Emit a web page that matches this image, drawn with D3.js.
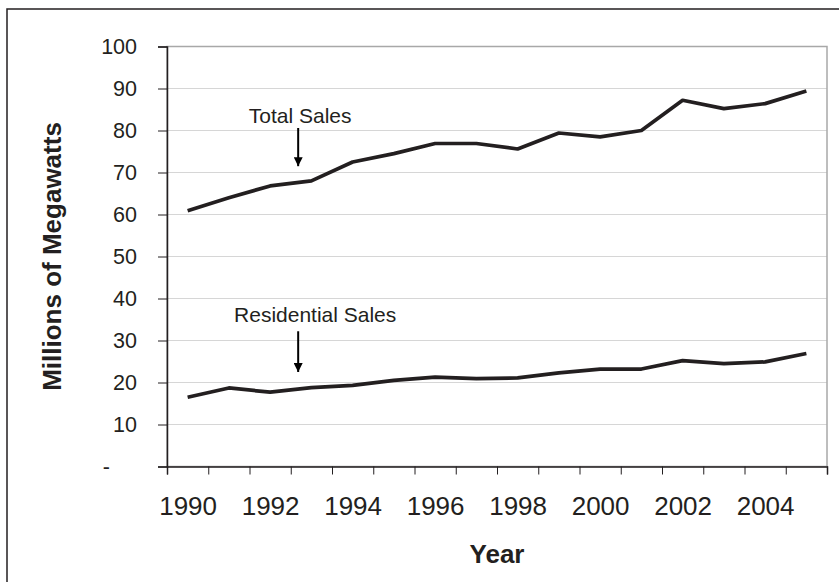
<!DOCTYPE html>
<html>
<head>
<meta charset="utf-8">
<script src="https://cdn.jsdelivr.net/npm/d3@7"></script>
<style>
  body { margin: 0; background: #fff; }
  text { font-family: "Liberation Sans", Arial, sans-serif; fill: #231f20; }
</style>
</head>
<body>
<div id="chart"></div>
<script>
/* DATA */
const years = d3.range(1990, 2006);
const totalSales = [60.9, 64.0, 66.8, 68.0, 72.5, 74.5, 76.9, 76.9, 75.6, 79.4, 78.5, 80.0, 87.2, 85.2, 86.4, 89.4];
const residentialSales = [16.5, 18.7, 17.7, 18.8, 19.3, 20.5, 21.3, 20.9, 21.1, 22.3, 23.2, 23.2, 25.2, 24.5, 24.9, 26.9];
const yTicks = [0, 10, 20, 30, 40, 50, 60, 70, 80, 90, 100];
const xLabels = [1990, 1992, 1994, 1996, 1998, 2000, 2002, 2004];
// annotation: label, x (in year units), label baseline, arrow top, arrow tip (in y units)
const notes = [
  { label: "Total Sales", x: 1992.68, textY: 81.8, from: 80.6, to: 71.5, dx: 2 },
  { label: "Residential Sales", x: 1992.68, textY: 34.5, from: 32.2, to: 22.5, dx: 17 }
];

/* SIZES */
const width = 839, height = 582;
const margin = { top: 46.5, right: 12, bottom: 115.5, left: 167 };

const svg = d3.select("#chart").append("svg")
  .attr("width", width)
  .attr("height", height);

// outer frame (cut off on the right and bottom like the reference)
svg.append("rect")
  .attr("x", 7).attr("y", 9)
  .attr("width", 900).attr("height", 700)
  .attr("fill", "none")
  .attr("stroke", "#231f20")
  .attr("stroke-width", 1.5);

const xScale = d3.scaleLinear()
  .domain([1989.5, 2005.5])
  .range([margin.left, width - margin.right]);

const yScale = d3.scaleLinear()
  .domain([0, 100])
  .range([height - margin.bottom, margin.top]);

// gridlines
svg.append("g")
  .selectAll("line")
  .data(yTicks.filter(d => d > 0 && d < 100))
  .join("line")
  .attr("x1", xScale.range()[0])
  .attr("x2", xScale.range()[1])
  .attr("y1", d => yScale(d))
  .attr("y2", d => yScale(d))
  .attr("stroke", "#d6d6d6")
  .attr("stroke-width", 1.2);

// plot area border
svg.append("rect")
  .attr("x", xScale.range()[0])
  .attr("y", yScale(100))
  .attr("width", xScale.range()[1] - xScale.range()[0])
  .attr("height", yScale(0) - yScale(100))
  .attr("fill", "none")
  .attr("stroke", "#a8a8a8")
  .attr("stroke-width", 1.5);

// y axis
const yAxis = d3.axisLeft(yScale)
  .tickValues(yTicks)
  .tickSize(9)
  .tickPadding(21)
  .tickFormat(d => d === 0 ? "-" : d);

const gy = svg.append("g")
  .attr("transform", `translate(${margin.left},0)`)
  .call(yAxis);
gy.select(".domain").attr("stroke", "#231f20").attr("stroke-width", 1.5);
gy.selectAll(".tick line").attr("stroke", "#231f20");
gy.selectAll(".tick text")
  .attr("font-size", 21.5)
  .attr("fill", "#231f20")
  .attr("dx", d => d === 0 ? -27 : 0);

// x axis: ticks between categories
const xAxis = d3.axisBottom(xScale)
  .tickValues(d3.range(1989.5, 2006, 1))
  .tickSize(8)
  .tickFormat("");

const gx = svg.append("g")
  .attr("transform", `translate(0,${yScale(0)})`)
  .call(xAxis);
gx.select(".domain").attr("stroke", "#231f20").attr("stroke-width", 1.5);
gx.selectAll(".tick line").attr("stroke", "#231f20");

// x labels at category centres
const xLabelAxis = d3.axisBottom(xScale)
  .tickValues(xLabels)
  .tickSize(0)
  .tickPadding(30)
  .tickFormat(d3.format("d"));

const gxl = svg.append("g")
  .attr("transform", `translate(0,${yScale(0)})`)
  .call(xLabelAxis);
gxl.select(".domain").remove();
gxl.selectAll(".tick text").attr("font-size", 26).attr("fill", "#231f20");

// axis titles
svg.append("text")
  .attr("x", (xScale.range()[0] + xScale.range()[1]) / 2)
  .attr("y", 563)
  .attr("text-anchor", "middle")
  .attr("font-size", 26)
  .attr("font-weight", "bold")
  .text("Year");

svg.append("text")
  .attr("transform", `translate(61,${(yScale(0) + yScale(100)) / 2}) rotate(-90)`)
  .attr("text-anchor", "middle")
  .attr("font-size", 26)
  .attr("font-weight", "bold")
  .text("Millions of Megawatts");

// lines
const line = d3.line()
  .x((d, i) => xScale(years[i]))
  .y(d => yScale(d));

svg.selectAll("path.series")
  .data([totalSales, residentialSales])
  .join("path")
  .attr("class", "series")
  .attr("fill", "none")
  .attr("stroke", "#231f20")
  .attr("stroke-width", 3.7)
  .attr("stroke-linejoin", "round")
  .attr("d", line);

// annotations
svg.append("defs").append("marker")
  .attr("id", "arrow")
  .attr("viewBox", "0 0 10 10")
  .attr("refX", 10).attr("refY", 5)
  .attr("markerWidth", 9).attr("markerHeight", 9)
  .attr("markerUnits", "userSpaceOnUse")
  .attr("orient", "auto")
  .append("path")
  .attr("d", "M0,0 L10,5 L0,10 Z")
  .attr("fill", "#000");

const ann = svg.append("g").selectAll("g")
  .data(notes)
  .join("g");

ann.append("text")
  .attr("x", d => xScale(d.x) + d.dx)
  .attr("y", d => yScale(d.textY))
  .attr("text-anchor", "middle")
  .attr("font-size", 21)
  .text(d => d.label);

ann.append("line")
  .attr("x1", d => xScale(d.x))
  .attr("x2", d => xScale(d.x))
  .attr("y1", d => yScale(d.from))
  .attr("y2", d => yScale(d.to))
  .attr("stroke", "#000")
  .attr("stroke-width", 2)
  .attr("marker-end", "url(#arrow)");
</script>
</body>
</html>
